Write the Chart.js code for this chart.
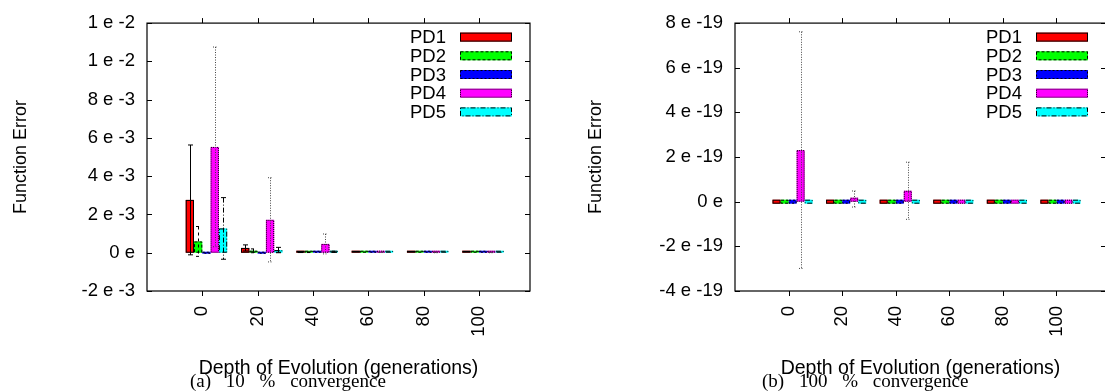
<!DOCTYPE html>
<html lang="en">

<head>
    <meta charset="UTF-8">
    <title>Function Error vs Depth of Evolution</title>
    <script src="https://cdn.jsdelivr.net/npm/chart.js@4.4.1/dist/chart.umd.min.js"></script>
    <style>
        html, body { margin: 0; padding: 0; overflow: hidden; background: #fff; }
        body { position: relative; width: 1105px; height: 391px; }
        .panel { position: absolute; top: 0; height: 391px; }
        #panelA { left: 0; width: 560px; }
        #panelB { left: 575px; width: 540px; }
        .caption {
            position: absolute; top: 371px; line-height: 19px;
            font-family: "Liberation Serif", "Times New Roman", serif;
            font-size: 19px; word-spacing: 10px; white-space: pre; color: #000;
        }
    </style>
</head>

<body>
    <div class="panel" id="panelA"><canvas id="chartA"></canvas></div>
    <div class="panel" id="panelB"><canvas id="chartB"></canvas></div>
    <div class="caption" style="left:190px">(a) 10 % convergence</div>
    <div class="caption" style="left:762px">(b) 100 % convergence</div>
    <script>

        // generations on the x axis
        const depths = [0, 20, 40, 60, 80, 100];
        const seriesNames = ["PD1", "PD2", "PD3", "PD4", "PD5"];

        // (a) 10 % convergence: mean function error and error bar half-width
        const pd1_10 = [2.76e-3, 0.25e-3, 0.02e-3, 0.005e-3, 0.003e-3, 0.002e-3];
        const pd2_10 = [0.59e-3, 0.10e-3, 0.02e-3, 0.004e-3, 0.002e-3, 0.002e-3];
        const pd3_10 = [0.0, 0.0, 0.01e-3, 0.003e-3, 0.002e-3, 0.001e-3];
        const pd4_10 = [5.53e-3, 1.72e-3, 0.46e-3, 0.04e-3, 0.01e-3, 0.01e-3];
        const pd5_10 = [1.27e-3, 0.14e-3, 0.05e-3, 0.01e-3, 0.005e-3, 0.003e-3];
        const pd1_10_err = [2.87e-3, 0.16e-3, 0.01e-3, 0, 0, 0];
        const pd2_10_err = [0.78e-3, 0.10e-3, 0.01e-3, 0, 0, 0];
        const pd3_10_err = [0, 0, 0, 0, 0, 0];
        const pd4_10_err = [5.22e-3, 2.20e-3, 0.52e-3, 0.03e-3, 0.01e-3, 0.01e-3];
        const pd5_10_err = [1.61e-3, 0.14e-3, 0.03e-3, 0, 0, 0];
        const yTicks10 = [-2e-3, 0, 2e-3, 4e-3, 6e-3, 8e-3, 10e-3, 12e-3];
        const yLabels10 = ["-2 e -3", "0 e", "2 e -3", "4 e -3", "6 e -3", "8 e -3", "1 e -2", "1 e -2"];

        // (b) 100 % convergence
        const pd1_100 = [0, 0, 0, 0, 0, 0];
        const pd2_100 = [0, 0, 0, 0, 0, 0];
        const pd3_100 = [0, 0, 0, 0, 0, 0];
        const pd4_100 = [2.31e-19, 0.12e-19, 0.49e-19, 0, 0, 0];
        const pd5_100 = [0, 0, 0, 0, 0, 0];
        const pd1_100_err = [0, 0, 0, 0, 0, 0];
        const pd2_100_err = [0, 0, 0, 0, 0, 0];
        const pd3_100_err = [0, 0, 0, 0, 0, 0];
        const pd4_100_err = [5.30e-19, 0.36e-19, 1.28e-19, 0, 0, 0];
        const pd5_100_err = [0, 0, 0, 0, 0, 0];
        const yTicks100 = [-4e-19, -2e-19, 0, 2e-19, 4e-19, 6e-19, 8e-19];
        const yLabels100 = ["-4 e -19", "-2 e -19", "0 e", "2 e -19", "4 e -19", "6 e -19", "8 e -19"];

        // gnuplot style per series
        const fillColors = ["#ff0000", "#00ff00", "#0000ff", "#ff00ff", "#00ffff"];
        const outlineDash = [[], [3, 2], [2, 2], [1, 1], [5, 2, 1, 2]];
        const errColors = ["#000", "#000", "#000", "#444", "#000"];
        const errDash = [[], [3, 3], [2, 2], [1, 1.5], [5, 2, 1, 2]];

        Chart.defaults.font.family = '"Liberation Sans", Arial, sans-serif';
        Chart.defaults.color = "#000";

        // frame, ticks, bar outlines, error bars and legend drawn the gnuplot way
        const gnuplotLook = {
            id: "gnuplotLook",
            afterDatasetsDraw(chart) {
                const ctx = chart.ctx;
                const { left, right, top, bottom } = chart.chartArea;
                const xs = chart.scales.x, ys = chart.scales.y;
                ctx.save();
                ctx.lineWidth = 1;

                chart.data.datasets.forEach((ds, di) => {
                    if (!ds.label) return;
                    const meta = chart.getDatasetMeta(di);
                    // bar outlines
                    ctx.strokeStyle = "#000";
                    ctx.setLineDash(ds.outlineDash);
                    meta.data.forEach(bar => {
                        const p = bar.getProps(["x", "y", "base", "width"], true);
                        if (!isFinite(p.y)) return;
                        const h = Math.abs(p.base - p.y);
                        ctx.strokeRect(p.x - p.width / 2 + 0.5, Math.min(p.y, p.base) + 0.5, p.width - 1, Math.max(h - 1, 0));
                    });
                    // error bars
                    ctx.strokeStyle = ds.errColor;
                    ctx.setLineDash(ds.errDash);
                    meta.data.forEach((bar, i) => {
                        const e = ds.errors[i];
                        if (!e) return;
                        const v = ds.data[i];
                        const x = Math.round(bar.x) + 0.5;
                        const yHi = ys.getPixelForValue(v + e);
                        const yLo = ys.getPixelForValue(v - e);
                        ctx.beginPath();
                        ctx.moveTo(x, yHi); ctx.lineTo(x, yLo);
                        ctx.moveTo(x - 2.5, yHi); ctx.lineTo(x + 2.5, yHi);
                        ctx.moveTo(x - 2.5, yLo); ctx.lineTo(x + 2.5, yLo);
                        ctx.stroke();
                    });
                });

                // border and tick marks
                ctx.setLineDash([]);
                ctx.strokeStyle = "#000";
                ctx.lineWidth = 1.2;
                ctx.strokeRect(left, top, right - left, bottom - top);
                ctx.lineWidth = 1;
                ctx.beginPath();
                xs.ticks.forEach(t => {
                    const px = Math.round(xs.getPixelForValue(t.value)) + 0.5;
                    ctx.moveTo(px, bottom); ctx.lineTo(px, bottom + 5);
                    ctx.moveTo(px, top); ctx.lineTo(px, top - 5);
                });
                ys.ticks.forEach(t => {
                    const py = Math.round(ys.getPixelForValue(t.value)) + 0.5;
                    ctx.moveTo(left, py); ctx.lineTo(left + 5, py);
                    ctx.moveTo(right, py); ctx.lineTo(right - 5, py);
                });
                ctx.stroke();

                // key, top right inside the plot
                const items = chart.data.datasets.filter(d => d.label);
                ctx.font = '18.5px "Liberation Sans", Arial, sans-serif';
                ctx.textAlign = "right";
                ctx.textBaseline = "middle";
                items.forEach((d, i) => {
                    const cy = top + 14 + i * 18.7;
                    const bx = right - 18 - 52;
                    ctx.fillStyle = d.backgroundColor;
                    ctx.fillRect(bx, cy - 4.5, 52, 9);
                    ctx.setLineDash(d.outlineDash);
                    ctx.strokeRect(bx + 0.5, cy - 4, 51, 8);
                    ctx.fillStyle = "#000";
                    ctx.fillText(d.label, bx - 14, cy + 1);
                });
                ctx.restore();
            }
        };

        function makeDatasets(values, errors, minLen) {
            // empty first slot: gnuplot leaves the cluster gap on the left of the tick
            const spacer = { label: "", data: depths.map(() => null), backgroundColor: "transparent" };
            return [spacer].concat(seriesNames.map((name, i) => ({
                label: name,
                data: values[i],
                errors: errors[i],
                backgroundColor: fillColors[i],
                borderWidth: 0,
                minBarLength: minLen,
                outlineDash: outlineDash[i],
                errColor: errColors[i],
                errDash: errDash[i]
            })));
        }

        function makeChart(id, values, errors, yTicks, yLabels, minLen, layout) {
            return new Chart(document.getElementById(id), {
                type: "bar",
                data: { labels: depths, datasets: makeDatasets(values, errors, minLen) },
                options: {
                    responsive: true,
                    maintainAspectRatio: false,
                    animation: false,
                    layout: { padding: layout.padding },
                    datasets: { bar: { categoryPercentage: 0.9, barPercentage: 1.0 } },
                    plugins: { legend: { display: false }, tooltip: { enabled: false } },
                    scales: {
                        x: {
                            type: "linear",
                            min: -20,
                            max: 118.5,
                            offset: false,
                            grid: { display: false, drawTicks: false },
                            border: { display: false },
                            afterBuildTicks: s => { s.ticks = depths.map(v => ({ value: v })); },
                            afterFit: s => { s.height = layout.xHeight; },
                            ticks: {
                                autoSkip: false, minRotation: 90, maxRotation: 90, padding: 15,
                                font: { size: 18.5 }, callback: v => String(v)
                            },
                            title: {
                                display: true, text: "Depth of Evolution (generations)",
                                font: { size: 19.5 }, padding: { top: 0, bottom: 3 }
                            }
                        },
                        y: {
                            min: yTicks[0],
                            max: yTicks[yTicks.length - 1],
                            grid: { display: false, drawTicks: false },
                            border: { display: false },
                            afterBuildTicks: s => { s.ticks = yTicks.map(v => ({ value: v })); },
                            afterFit: s => { s.width = layout.yWidth; },
                            ticks: { padding: 12, font: { size: 18.5 }, callback: (v, i) => yLabels[i] },
                            title: {
                                display: true, text: "Function Error",
                                font: { size: 18 }, padding: { top: 4, bottom: 0 }
                            }
                        }
                    }
                },
                plugins: [gnuplotLook]
            });
        }

        makeChart("chartA",
            [pd1_10, pd2_10, pd3_10, pd4_10, pd5_10],
            [pd1_10_err, pd2_10_err, pd3_10_err, pd4_10_err, pd5_10_err],
            yTicks10, yLabels10, 2,
            { padding: { left: 6, right: 30, top: 15, bottom: 8 }, yWidth: 141, xHeight: 92 });

        makeChart("chartB",
            [pd1_100, pd2_100, pd3_100, pd4_100, pd5_100],
            [pd1_100_err, pd2_100_err, pd3_100_err, pd4_100_err, pd5_100_err],
            yTicks100, yLabels100, 4,
            { padding: { left: 6, right: 9, top: 15, bottom: 8 }, yWidth: 154, xHeight: 92 });

    </script>
</body>

</html>
